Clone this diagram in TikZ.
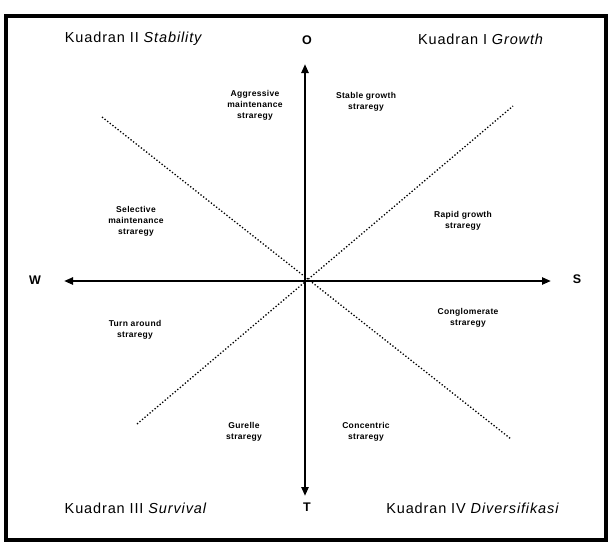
\documentclass[tikz,border=0pt]{standalone}
\usepackage{fontspec}
\setmainfont{Liberation Sans}
\usetikzlibrary{arrows.meta}
\begin{document}
\begin{tikzpicture}[x=1pt,y=-1pt,
  frame/.style={line width=4pt},
  axis/.style={line width=2.6pt,{Triangle[length=9pt,width=7pt]}-{Triangle[length=9pt,width=7pt]}},
  diag/.style={line width=1.3pt,dotted},
  quad/.style={font=\fontsize{14.5}{16}\selectfont\addfontfeatures{LetterSpace=6}},
  pole/.style={font=\fontsize{12.5}{14}\selectfont\bfseries},
  strat/.style={font=\fontsize{8.5}{11}\selectfont\bfseries\addfontfeatures{LetterSpace=4},align=center}]
\useasboundingbox (0,0) rectangle (612,547);
\draw[frame] (6,16) rectangle (606,540);
% centre and axis ends
\coordinate (c) at (305,281);
\coordinate (top) at (305,64);
\coordinate (bot) at (305,496);
\coordinate (lft) at (64,281);
\coordinate (rgt) at (551,281);
\coordinate (ul) at (102,117);
\coordinate (ur) at (513,106);
\coordinate (ll) at (137,424);
\coordinate (lr) at (511,439);
\draw[diag] (ul) -- (lr);
\draw[diag] (ll) -- (ur);
\draw[axis] (bot) -- (top);
\draw[axis] (lft) -- (rgt);
% pole letters
\node[pole] (O) at (307,40) {O};
\node[pole] (T) at (307,507) {T};
\node[pole] (W) at (35,280) {W};
\node[pole] (S) at (577,279) {S};
% quadrant titles
\node[quad] (q2) at (134,39) {Kuadran II \textit{Stability}};
\node[quad] (q1) at (481,39) {Kuadran I \textit{Growth}};
\node[quad] (q3) at (136,508) {Kuadran III \textit{Survival}};
\node[quad] (q4) at (473,508) {Kuadran IV \textit{Diversifikasi}};
% strategies
\node[strat] (s1) at (255,105) {Aggressive\\maintenance\\straregy};
\node[strat] (s2) at (366,102) {Stable growth\\straregy};
\node[strat] (s3) at (136,221) {Selective\\maintenance\\straregy};
\node[strat] (s4) at (463,221) {Rapid growth\\straregy};
\node[strat] (s5) at (135,330) {Turn around\\straregy};
\node[strat] (s6) at (468,318) {Conglomerate\\straregy};
\node[strat] (s7) at (244,432) {Gurelle\\straregy};
\node[strat] (s8) at (366,432) {Concentric\\straregy};
\end{tikzpicture}
\end{document}
